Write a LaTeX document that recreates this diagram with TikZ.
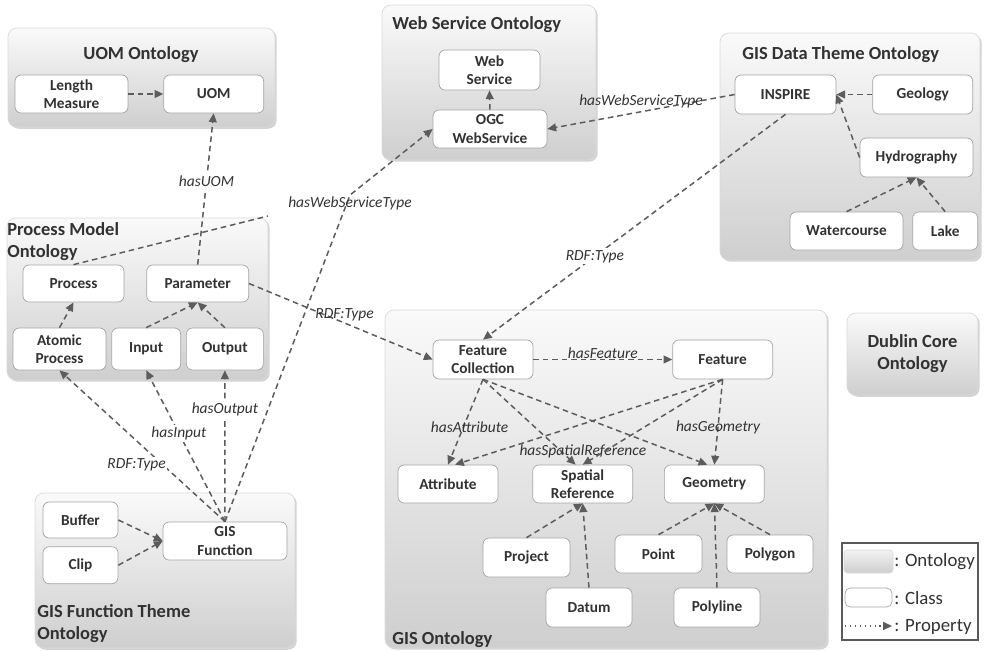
\documentclass[tikz,border=0pt]{standalone}
\usepackage{fontspec}
\setmainfont{Carlito}
\usepackage{tikz}
\usetikzlibrary{arrows.meta, positioning, calc, shadows, backgrounds}
\definecolor{linegray}{RGB}{92,92,92}
\definecolor{textgray}{RGB}{50,50,50}
\definecolor{boxedge}{RGB}{165,165,165}
\tikzset{
  ontobox/.style={rectangle,rounded corners=5pt,draw=gray!30,top color=gray!4,bottom color=gray!38,
    drop shadow={shadow xshift=1pt,shadow yshift=-1pt,opacity=0.35}},
  ontotitle/.style={font=\fontsize{10.5}{12.5}\selectfont\bfseries,text=textgray,align=left,inner sep=0pt},
  clsnode/.style={rectangle,rounded corners=3.5pt,draw=boxedge,fill=white,align=center,
    font=\fontsize{8.7}{10.4}\selectfont\bfseries,text=textgray,inner sep=1pt},
  proparr/.style={-{Triangle[length=5pt,width=4.5pt]},dash pattern=on 3.2pt off 2.2pt,line width=0.85pt,color=linegray},
  propline/.style={dash pattern=on 3.2pt off 2.2pt,line width=0.85pt,color=linegray},
  proplabel/.style={font=\fontsize{8.8}{10}\selectfont\itshape,text=textgray,inner sep=1pt},
  whitelabel/.style={proplabel,fill=white},
  legtext/.style={font=\fontsize{10.7}{12}\selectfont,text=textgray,anchor=west,inner sep=0pt},
  legarr/.style={-{Triangle[length=5pt,width=4.5pt]},dotted,line width=0.8pt,color=linegray}
}

\begin{document}
\begin{tikzpicture}[x=0.02cm,y=-0.02cm]
  \useasboundingbox (0,0) rectangle (985,650);

  % UOM ontology
  \node[clsnode,minimum width=2.26cm,minimum height=0.76cm] (lenmeas) at (71.5,94) {Length\\Measure};
  \node[clsnode,right=0.7cm of lenmeas,minimum width=2.0cm,minimum height=0.76cm] (uom) {UOM};
  \node[ontotitle,anchor=base] (uomtitle) at (141,59) {UOM Ontology};

  % web service ontology
  \node[clsnode,minimum width=2.02cm,minimum height=0.8cm] (websvc) at (489.5,70) {Web\\Service};
  \node[clsnode,minimum width=2.28cm,minimum height=0.76cm] (ogcws) at (490,129) {OGC\\WebService};
  \node[ontotitle,anchor=base west] (wstitle) at (392,29) {Web Service Ontology};

  % GIS data theme ontology
  \node[clsnode,minimum width=2.02cm,minimum height=0.78cm] (inspire) at (785.5,94.5) {INSPIRE};
  \node[clsnode,right=0.72cm of inspire,minimum width=2.0cm,minimum height=0.78cm] (geology) {Geology};
  \node[clsnode,minimum width=2.26cm,minimum height=0.78cm] (hydro) at (916.5,157.5) {Hydrography};
  \node[clsnode,minimum width=2.26cm,minimum height=0.76cm] (watercourse) at (846.5,231) {Watercourse};
  \node[clsnode,right=0.18cm of watercourse,minimum width=1.3cm,minimum height=0.76cm] (lake) {Lake};
  \node[ontotitle,anchor=base west] (datatitle) at (742,59) {GIS Data Theme Ontology};

  % process model ontology
  \node[clsnode,minimum width=2.02cm,minimum height=0.74cm] (process) at (73.5,283.5) {Process};
  \node[clsnode,right=0.44cm of process,minimum width=2.04cm,minimum height=0.74cm] (parameter) {Parameter};
  \node[clsnode,minimum width=1.86cm,minimum height=0.84cm] (atomic) at (59.5,349) {Atomic\\Process};
  \node[clsnode,right=0.1cm of atomic,minimum width=1.38cm,minimum height=0.84cm] (input) {Input};
  \node[clsnode,right=0.1cm of input,minimum width=1.54cm,minimum height=0.84cm] (output) {Output};
  \node[ontotitle,anchor=north west] (pmtitle) at (7,222) {Process Model\\Ontology};
  \coordinate (pmtail) at (268,216);

  % GIS function theme ontology
  \node[clsnode,minimum width=1.5cm,minimum height=0.72cm] (buffer) at (80.5,520) {Buffer};
  \node[clsnode,below=0.16cm of buffer,minimum width=1.5cm,minimum height=0.74cm] (clip) {Clip};
  \node[clsnode,minimum width=2.48cm,minimum height=0.76cm] (gisfunc) at (225,541) {GIS\\Function};
  \node[ontotitle,anchor=north west] (fntitle) at (37,604) {GIS Function Theme\\Ontology};
  \coordinate (wsbend) at (350,195);

  % GIS ontology
  \node[clsnode,minimum width=2.0cm,minimum height=0.78cm] (featcoll) at (483,359.5) {Feature\\Collection};
  \node[clsnode,right=2.78cm of featcoll,minimum width=2.0cm,minimum height=0.78cm] (feature) {Feature};
  \node[clsnode,minimum width=2.0cm,minimum height=0.76cm] (attribute) at (448,484) {Attribute};
  \node[clsnode,right=0.68cm of attribute,minimum width=2.0cm,minimum height=0.76cm] (spatref) {Spatial\\Reference};
  \node[clsnode,right=0.62cm of spatref,minimum width=2.0cm,minimum height=0.76cm] (geometry) {Geometry};
  \node[clsnode,minimum width=1.74cm,minimum height=0.78cm] (project) at (526.5,557.5) {Project};
  \node[clsnode,minimum width=1.72cm,minimum height=0.78cm] (datum) at (589,607.5) {Datum};
  \node[clsnode,minimum width=1.74cm,minimum height=0.76cm] (point) at (658.5,554) {Point};
  \node[clsnode,minimum width=1.72cm,minimum height=0.76cm] (polygon) at (770,554) {Polygon};
  \node[clsnode,minimum width=1.72cm,minimum height=0.78cm] (polyline) at (717,607.5) {Polyline};
  \node[ontotitle,anchor=base west] (gistitle) at (392,644) {GIS Ontology};

  % dublin core
  \node[ontobox,ontotitle,align=center,minimum width=2.62cm,minimum height=1.64cm] (dconto) at (912.5,354)
    {Dublin Core\\Ontology};

  % legend
  \node[draw=gray!70!black,line width=0.7pt,minimum width=2.72cm,minimum height=1.94cm] (legbox) at (910,591.5) {};
  \node[rectangle,rounded corners=2pt,draw=gray!30,top color=gray!10,bottom color=gray!38,
        minimum width=0.98cm,minimum height=0.46cm] (legonto) at (868.5,561.5) {};
  \node[legtext] (legontotext) at (894,562) {: Ontology};
  \node[rectangle,rounded corners=3pt,draw=boxedge,fill=white,minimum width=0.94cm,minimum height=0.38cm]
    (legcls) at (868.5,597.5) {};
  \node[legtext] (legclstext) at (894,598) {: Class};
  \coordinate (legpa) at (845,626);
  \coordinate (legpb) at (892,626);
  \node[legtext] (legproptext) at (894,627) {: Property};
  \draw[legarr] (legpa) -- (legpb);

  % properties
  \draw[proparr] (lenmeas.east) -- (uom.west);
  \draw[proparr] (parameter.north) -- node[whitelabel,pos=0.55]{hasUOM} (uom.south);
  \draw[proparr] (ogcws.north) -- (websvc.south);
  \draw[proparr] (inspire.west) -- node[proplabel,pos=0.5,above=1pt]{hasWebServiceType} (ogcws.east);
  \draw[proparr] (geology.west) -- (inspire.east);
  \draw[proparr] (hydro.west) -- (inspire.east);
  \draw[proparr] (watercourse.north) -- (hydro.south);
  \draw[proparr] (lake.north) -- (hydro.south);
  \draw[proparr] (inspire.south) -- node[whitelabel,pos=0.63]{RDF:Type} (featcoll.north);
  \draw[propline] (process.north) -- (pmtail);
  \draw[proparr] (atomic.north) -- (process.south);
  \draw[proparr] (input.north) -- (parameter.south);
  \draw[proparr] (output.north) -- (parameter.south);
  \draw[proparr] (parameter.east) -- node[proplabel,pos=0.52,above=0pt]{RDF:Type} (featcoll.west);
  \draw[proparr] (gisfunc.north) -- node[whitelabel,pos=0.375,left=-3pt]{RDF:Type} (atomic.south);
  \draw[proparr] (gisfunc.north) -- node[whitelabel,pos=0.585]{hasInput} (input.south);
  \draw[proparr] (gisfunc.north) -- node[whitelabel,pos=0.74]{hasOutput} (output.south);
  \draw[proparr] (gisfunc.north) -- (wsbend) node[proplabel,yshift=-4.5pt]{hasWebServiceType} -- (ogcws.west);
  \draw[proparr] (buffer.east) -- (gisfunc.west);
  \draw[proparr] (clip.east) -- (gisfunc.west);
  \draw[proparr] (featcoll.east) -- node[proplabel,above=-1pt]{hasFeature} (feature.west);
  \draw[proparr] (featcoll.south) -- node[proplabel,pos=0.56,xshift=3.5pt]{hasAttribute} (attribute.north);
  \draw[proparr] (featcoll.south) -- node[proplabel,pos=0.85,xshift=12pt]{hasSpatialReference} (spatref.110);
  \draw[proparr] (featcoll.south) -- (geometry.110);
  \draw[proparr] (feature.south) -- (attribute.70);
  \draw[proparr] (feature.south) -- (spatref.north);
  \draw[proparr] (feature.south) -- node[proplabel,pos=0.56]{hasGeometry} (geometry.north);
  \draw[proparr] (project.north) -- (spatref.south);
  \draw[proparr] (datum.north) -- (spatref.south);
  \draw[proparr] (point.north) -- (geometry.south);
  \draw[proparr] (polyline.north) -- (geometry.south);
  \draw[proparr] (polygon.north) -- (geometry.south);

  \begin{pgfonlayer}{background}
    \node[ontobox,minimum width=5.34cm,minimum height=1.98cm] (uomonto) at (141.5,77.5) {};
    \node[ontobox,minimum width=4.28cm,minimum height=3.1cm] (wsonto) at (489,82.5) {};
    \node[ontobox,minimum width=5.2cm,minimum height=4.54cm] (dataonto) at (850,146.5) {};
    \node[ontobox,minimum width=5.22cm,minimum height=3.24cm] (pmonto) at (137.5,299) {};
    \node[ontobox,minimum width=5.2cm,minimum height=3.1cm] (fnonto) at (165,570.5) {};
    \node[ontobox,minimum width=8.84cm,minimum height=6.76cm] (gisonto) at (606,479) {};
  \end{pgfonlayer}
\end{tikzpicture}
\end{document}
